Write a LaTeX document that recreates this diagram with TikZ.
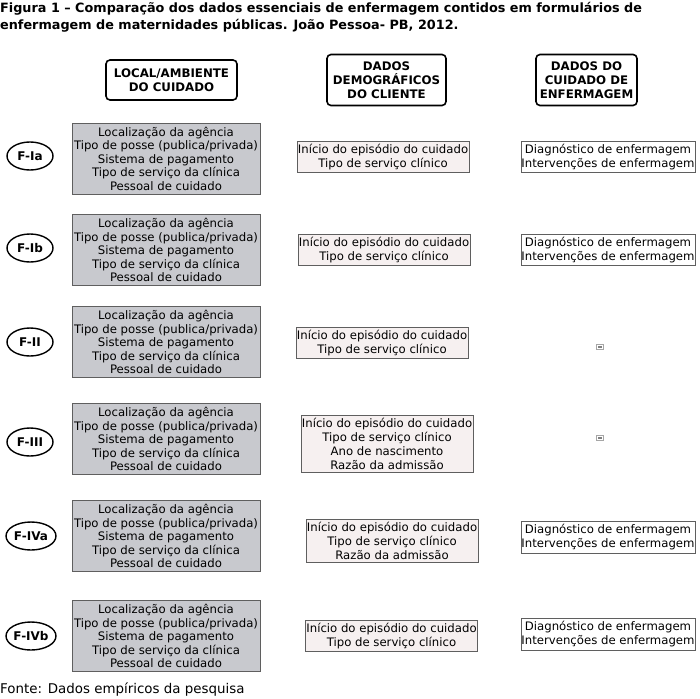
\documentclass[tikz,border=0pt]{standalone}
\usepackage{fontspec}
\setmainfont{DejaVu Sans}
\usetikzlibrary{shapes.geometric}
\definecolor{boxgray}{RGB}{200,201,206}
\definecolor{boxpink}{RGB}{246,240,240}
\definecolor{boxline}{RGB}{95,95,95}
\newcommand{\localtxt}{Localização da agência\\Tipo de posse (publica/privada)\\Sistema de pagamento\\Tipo de serviço da clínica\\Pessoal de cuidado}
\newcommand{\iniciotxt}{Início do episódio do cuidado\\Tipo de serviço clínico}
\newcommand{\diagtxt}{Diagnóstico de enfermagem\\Intervenções de enfermagem}
\begin{document}
\begin{tikzpicture}[x=1pt, y=-1pt,
  head/.style={draw, rounded corners=4pt, line width=1.6pt, align=center, inner sep=0pt,
    font=\fontsize{11.8}{13.8}\selectfont\bfseries},
  form/.style={draw, ellipse, line width=1.4pt, minimum width=46pt, minimum height=28pt,
    inner sep=0pt, font=\fontsize{12}{13}\selectfont\bfseries},
  local/.style={draw=boxline, fill=boxgray, line width=0.8pt, minimum width=188pt,
    minimum height=71pt, align=center, inner sep=0pt, font=\fontsize{11.7}{13.5}\selectfont},
  demo/.style={draw=boxline, fill=boxpink, line width=0.8pt, minimum width=172pt,
    align=center, inner xsep=0pt, inner ysep=3pt, font=\fontsize{11.7}{13.8}\selectfont},
  cuid/.style={draw=boxline, fill=white, line width=0.8pt, minimum width=174pt,
    align=center, inner xsep=0pt, inner ysep=3pt, font=\fontsize{11.7}{14}\selectfont},
  vazio/.style={draw=gray!70, line width=0.6pt, fill=white, inner sep=2pt}]
  \useasboundingbox (0,0) rectangle (700,698);
  % titulo
  \node[anchor=north west, align=left, inner sep=0pt, font=\fontsize{12.8}{17}\selectfont\bfseries] (titulo) at (0,2)
    {Figura 1 – Comparação dos dados essenciais de enfermagem contidos em formulários de\\
     enfermagem de maternidades públicas. João Pessoa- PB, 2012.};
  % cabecalhos
  \node[head, minimum width=131pt, minimum height=40pt] (hlocal) at (171.5,80) {LOCAL/AMBIENTE\\DO CUIDADO};
  \node[head, minimum width=119pt, minimum height=51pt] (hdemo) at (386.5,80) {DADOS\\DEMOGRÁFICOS\\DO CLIENTE};
  \node[head, minimum width=101pt, minimum height=51pt] (hcuid) at (586.5,80) {DADOS DO\\CUIDADO DE\\ENFERMAGEM};
  % F-Ia
  \node[form] (f1) at (30,156) {F-Ia};
  \node[local] (l1) at (166,158.5) {\localtxt};
  \node[demo] (d1) at (383,157) {\iniciotxt};
  \node[cuid] (c1) at (608,157) {\diagtxt};
  % F-Ib
  \node[form] (f2) at (30,248) {F-Ib};
  \node[local] (l2) at (166,250) {\localtxt};
  \node[demo] (d2) at (384,250) {\iniciotxt};
  \node[cuid] (c2) at (608,250) {\diagtxt};
  % F-II
  \node[form] (f3) at (30,342) {F-II};
  \node[local] (l3) at (166,342) {\localtxt};
  \node[demo] (d3) at (382,343) {\iniciotxt};
  \node[vazio] (c3) at (600,347) {\textcolor{gray}{\rule{3.5pt}{1.2pt}}};
  % F-III
  \node[form] (f4) at (30,442) {F-III};
  \node[local] (l4) at (166,439) {\localtxt};
  \node[demo] (d4) at (387,444) {\iniciotxt\\Ano de nascimento\\Razão da admissão};
  \node[vazio] (c4) at (600,438) {\textcolor{gray}{\rule{3.5pt}{1.2pt}}};
  % F-IVa
  \node[form, minimum width=50pt] (f5) at (31,536) {F-IVa};
  \node[local] (l5) at (166,536) {\localtxt};
  \node[demo] (d5) at (392,541) {\iniciotxt\\Razão da admissão};
  \node[cuid] (c5) at (608,537) {\diagtxt};
  % F-IVb
  \node[form, minimum width=50pt] (f6) at (31,636) {F-IVb};
  \node[local] (l6) at (166,636) {\localtxt};
  \node[demo] (d6) at (391.5,636) {\iniciotxt};
  \node[cuid] (c6) at (608,634) {\diagtxt};
  % fonte
  \node[anchor=west, inner sep=0pt, font=\fontsize{13.4}{15}\selectfont] (fonte) at (0,690) {Fonte: Dados empíricos da pesquisa};
\end{tikzpicture}
\end{document}
